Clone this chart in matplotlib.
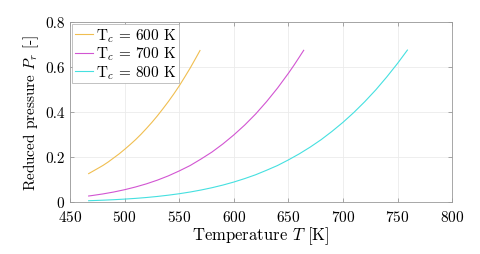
import matplotlib
matplotlib.use("Agg")
import matplotlib.pyplot as plt

plt.rcParams['font.family'] = 'cmr10'
plt.rcParams['mathtext.fontset'] = 'cm'
plt.rcParams['axes.formatter.use_mathtext'] = True

# Tc = 600 K
T_600 = [467, 475, 480, 485, 490, 495, 500, 505, 510, 515, 520, 525, 530,
         535, 540, 545, 550, 555, 560, 565, 569]
Pr_600 = [0.126, 0.148, 0.162, 0.178, 0.196, 0.214, 0.234, 0.255, 0.277, 0.301,
          0.327, 0.354, 0.383, 0.414, 0.446, 0.480, 0.516, 0.555, 0.595, 0.638, 0.673]

# Tc = 700 K
T_700 = [467, 470, 480, 490, 500, 510, 520, 530, 540, 550, 560, 570, 580,
         590, 600, 610, 620, 630, 640, 650, 655, 660, 664]
Pr_700 = [0.0266, 0.0285, 0.0357, 0.0443, 0.0546, 0.0667, 0.0807, 0.0971, 0.116,
          0.138, 0.162, 0.191, 0.222, 0.258, 0.298, 0.342, 0.391, 0.446, 0.506,
          0.572, 0.607, 0.644, 0.674]

# Tc = 800 K
T_800 = [467, 480, 490, 500, 510, 520, 530, 540, 550, 560, 570, 580, 590, 600,
         610, 620, 630, 640, 650, 660, 670, 680, 690, 700, 710, 720, 730, 740,
         750, 759]
Pr_800 = [0.0056, 0.0079, 0.0101, 0.0128, 0.0160, 0.0199, 0.0246, 0.0302, 0.0367,
          0.0443, 0.0532, 0.0634, 0.0752, 0.0886, 0.104, 0.121, 0.141, 0.162,
          0.187, 0.214, 0.244, 0.277, 0.314, 0.354, 0.398, 0.446, 0.498, 0.555,
          0.616, 0.675]

labels = [r'T$_c$ = 600 K', r'T$_c$ = 700 K', r'T$_c$ = 800 K']
colors = ['#F0BE50', '#D255D2', '#45E0E0']

fig = plt.figure(figsize=(4.8, 2.55), dpi=100)
ax = fig.add_axes([0.146, 0.204, 0.796, 0.706])

ax.plot(T_600, Pr_600, color=colors[0], lw=0.8, label=labels[0])
ax.plot(T_700, Pr_700, color=colors[1], lw=0.8, label=labels[1])
ax.plot(T_800, Pr_800, color=colors[2], lw=0.8, label=labels[2])

ax.set_xlim(450, 800)
ax.set_ylim(0, 0.8)
ax.set_xticks([450, 500, 550, 600, 650, 700, 750, 800])
ax.set_yticks([0, 0.2, 0.4, 0.6, 0.8])
ax.set_yticklabels(['0', '0.2', '0.4', '0.6', '0.8'])
ax.grid(True, color='#ebebeb', lw=0.6)
ax.tick_params(direction='in', top=True, right=True, length=3, width=0.5,
               color='#888888', labelsize=11)
ax.tick_params(axis='x', pad=5)
ax.tick_params(axis='y', pad=4)
for s in ax.spines.values():
    s.set_color('#999999')
    s.set_linewidth(0.6)

ax.set_xlabel(r'Temperature $T$ [K]', fontsize=12, labelpad=0)
ax.set_ylabel(r'Reduced pressure $P_r$ [-]', fontsize=11, labelpad=3)

leg = ax.legend(loc='upper left', fontsize=11, fancybox=False, framealpha=1,
                edgecolor='#aaaaaa', borderpad=0.15, labelspacing=0.05,
                handlelength=1.2, handletextpad=0.2, borderaxespad=0.15)
leg.get_frame().set_linewidth(0.5)

fig.savefig('out.png', dpi=100)
